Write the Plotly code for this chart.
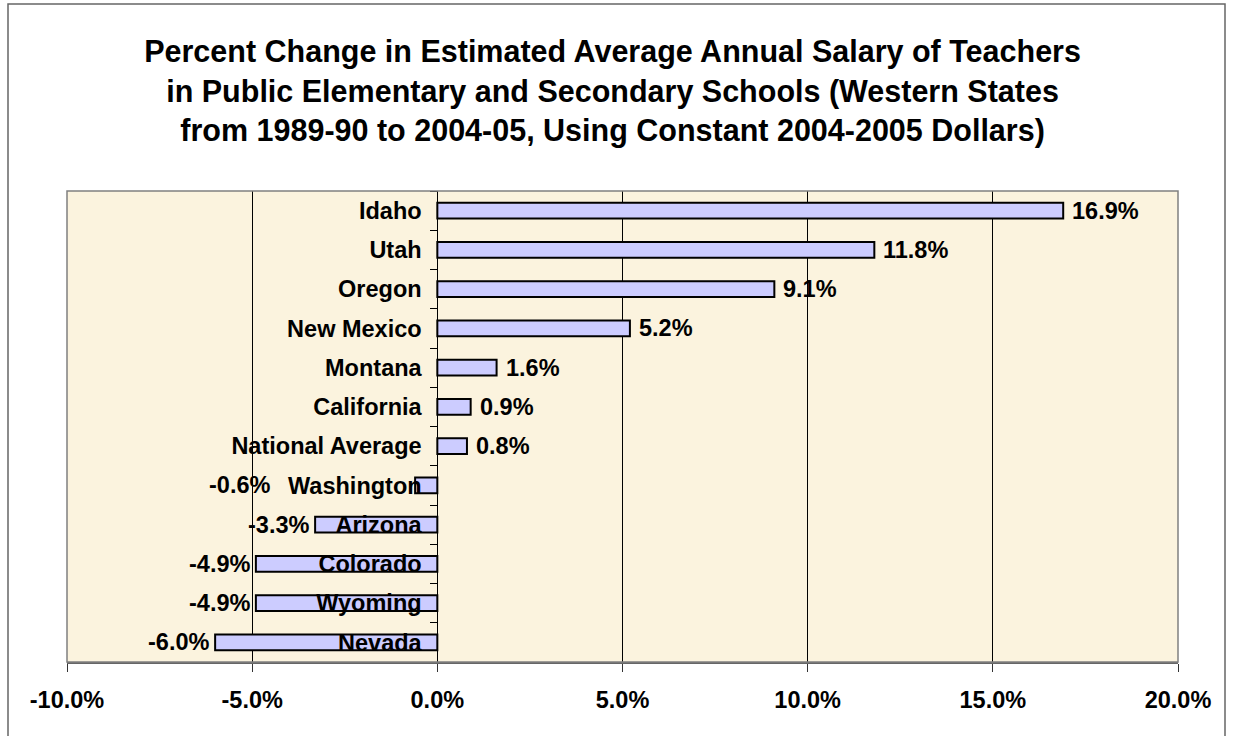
import plotly.graph_objects as go

# data (top to bottom as drawn)
STATES = ["Idaho", "Utah", "Oregon", "New Mexico", "Montana", "California",
          "National Average", "Washington", "Arizona", "Colorado", "Wyoming", "Nevada"]
PCT_CHANGE = [16.9, 11.8, 9.1, 5.2, 1.6, 0.9, 0.8, -0.6, -3.3, -4.9, -4.9, -6.0]
X_TICKS = [-10, -5, 0, 5, 10, 15, 20]
X_TICK_TEXT = [f"{v:.1f}%" for v in X_TICKS]

TITLE = ("Percent Change in Estimated Average Annual Salary of Teachers<br>"
         "in Public Elementary and Secondary Schools (Western States<br>"
         "from 1989-90 to 2004-05, Using Constant 2004-2005 Dollars)")

# layout in px
W, H = 1235, 736
ML, MR, MT, MB = 67, 57, 191, 74
PW, PH = W - ML - MR, H - MT - MB
FONT = "Liberation Sans, Arial, sans-serif"
BAR_FILL = "#CCCCFF"
PLOT_BG = "#FBF3DE"

# hand-moved label in the original (px)
LABEL_NUDGE = {"Washington": -139}

fig = go.Figure(go.Bar(
    x=PCT_CHANGE, y=STATES, orientation="h",
    marker=dict(color=BAR_FILL, line=dict(color="black", width=2)),
    hoverinfo="skip",
))

for s, v in zip(STATES, PCT_CHANGE):
    pos = v >= 0
    fig.add_annotation(
        x=v, y=s, text=f"{v:.1f}%", showarrow=False,
        xanchor="left" if pos else "right",
        xshift=(7 if pos else -4) + LABEL_NUDGE.get(s, 0),
        font=dict(family=FONT, size=23.5, color="black", weight="bold"),
    )

# outer chart border and plot-area border
fig.add_shape(type="rect", xref="paper", yref="paper",
              x0=(8 - ML) / PW, x1=(1225 - ML) / PW,
              y0=-(750 - MT - PH) / PH, y1=(MT + PH - 4) / PH,
              line=dict(color="#666666", width=1.5), layer="above")
fig.add_shape(type="rect", xref="paper", yref="paper", x0=0, x1=1, y0=0, y1=1,
              line=dict(color="#808080", width=1.5), layer="above")

fig.update_layout(
    width=W, height=H,
    margin=dict(l=ML, r=MR, t=MT, b=MB),
    paper_bgcolor="white", plot_bgcolor=PLOT_BG,
    showlegend=False, bargap=0.6,
    title=dict(text=TITLE, x=0.496, xanchor="center", yref="container",
               y=1 - 62 / H, yanchor="top",
               font=dict(family=FONT, size=30.5, color="black", weight="bold")),
    xaxis=dict(range=[-10, 20], tickvals=X_TICKS, ticktext=X_TICK_TEXT,
               showgrid=True, gridcolor="black", gridwidth=1, zeroline=False,
               showline=True, linecolor="#666666", linewidth=2,
               ticks="outside", ticklen=8, tickcolor="#333333",
               ticklabelstandoff=8,
               tickfont=dict(family=FONT, size=23.5, color="black", weight="bold")),
    yaxis=dict(type="category", autorange="reversed", anchor="free",
               position=(0 - (-10)) / 30, showgrid=False, zeroline=False,
               showline=True, linecolor="black", linewidth=1,
               ticks="outside", tickson="boundaries", ticklen=7, tickcolor="black",
               ticklabelstandoff=11,
               tickfont=dict(family=FONT, size=23.5, color="black", weight="bold")),
)

fig.write_html("out.html", config={"displayModeBar": False},
               post_script="document.body.style.margin='0';")
